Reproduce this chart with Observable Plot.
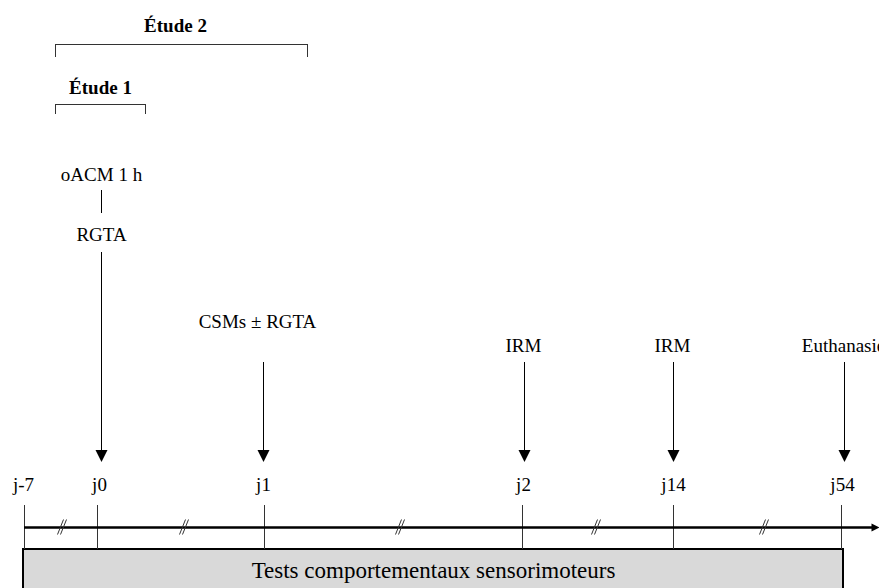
<!DOCTYPE html>
<html>
<head>
<meta charset="utf-8">
<script src="https://cdn.jsdelivr.net/npm/d3@7"></script>
<script src="https://cdn.jsdelivr.net/npm/@observablehq/plot@0.6"></script>
<style>
  html, body { margin: 0; padding: 0; background: #fff; }
  #chart svg { display: block; }
</style>
</head>
<body>
<div id="chart"></div>
<script>
// ---- Data (diagram layout, in the 879x588 frame) ----
const timepoints = ["j-7", "j0", "j1", "j2", "j14", "j54"];
const timepointX = [24, 97, 264, 522, 673, 841];
const timepointLabelX = [23, 99, 263, 523, 673, 842];

const events = ["oACM 1 h", "CSMs ± RGTA", "IRM", "IRM", "Euthanasie"];
const eventArrowX = [101, 263, 524, 673, 844];
const eventLabelX = [101, 257, 523, 672, 843];
const eventLabelY = [174, 321, 345, 345, 345];
const eventArrowTop = [252, 362, 362, 362, 362];

const subEvent = ["RGTA"];   // second line under oACM 1 h
const subEventY = [234];
const connectorY = [190, 213];

const studies = ["Étude 1", "Étude 2"];
const studyStart = [55, 55];
const studyEnd = [145, 307];
const studyLabelX = [100, 175];
const studyLabelY = [87, 25];
const studyBracketY = [104, 44];
const studyBracketDrop = [114, 57];

const breaks = [61, 183, 399, 595, 763];

const boxLabel = ["Tests comportementaux sensorimoteurs"];

// ---- Build tables ----
const tp = timepoints.map((t, i) => ({t, x: timepointX[i], lx: timepointLabelX[i]}));
const ev = events.map((e, i) => ({e, ax: eventArrowX[i], lx: eventLabelX[i], ly: eventLabelY[i], top: eventArrowTop[i]}));
const st = studies.map((s, i) => ({s, x1: studyStart[i], x2: studyEnd[i], lx: studyLabelX[i], ly: studyLabelY[i], by: studyBracketY[i], bd: studyBracketDrop[i]}));
const br = breaks.flatMap(b => [{x1: b - 4, x2: b + 2}, {x1: b - 1, x2: b + 5}]);

const axisY = 527, tickTop = 505, tickBottom = 549;
const headTop = 450, headY = 455.5;

const downTri = {draw(ctx, size) {const h = Math.sqrt(size / Math.PI); ctx.moveTo(-h, -h); ctx.lineTo(h, -h); ctx.lineTo(0, h); ctx.closePath();}};
const rightTri = {draw(ctx, size) {const h = Math.sqrt(size / Math.PI); ctx.moveTo(-h, -h); ctx.lineTo(h, 0); ctx.lineTo(-h, h); ctx.closePath();}};

const font = "Liberation Serif";

const chart = Plot.plot({
  width: 879,
  height: 588,
  margin: 0,
  x: {domain: [0, 879], range: [0, 879], axis: null},
  y: {domain: [0, 588], range: [0, 588], axis: null},
  marks: [
    // box
    Plot.rect(boxLabel, {x1: 23, x2: 843, y1: tickBottom, y2: 600, fill: "#d9d9d9", stroke: "#000", strokeWidth: 2}),
    Plot.text(boxLabel, {x: 433, y: 570, text: d => d, fontSize: 23, fontFamily: font, fill: "#000"}),
    // ticks
    Plot.ruleX(tp, {x: "x", y1: tickTop, y2: tickBottom, stroke: "#333", strokeWidth: 1}),
    // axis line
    Plot.ruleY([axisY], {x1: 24, x2: 874, stroke: "#000", strokeWidth: 2.5}),
    Plot.dot([axisY], {x: 875, y: d => d, r: 4, symbol: rightTri, fill: "#000", stroke: "none"}),
    // breaks
    Plot.link(br, {x1: "x1", x2: "x2", y1: 534, y2: 519, stroke: "#333", strokeWidth: 1}),
    // timepoint labels
    Plot.text(tp, {x: "lx", y: 484, text: "t", fontSize: 19, fontFamily: font, fill: "#000"}),
    // event arrows
    Plot.ruleX(ev, {x: "ax", y1: "top", y2: headTop, stroke: "#000", strokeWidth: 1}),
    Plot.dot(ev, {x: "ax", y: headY, r: 6, symbol: downTri, fill: "#000", stroke: "none"}),
    Plot.text(ev, {x: "lx", y: "ly", text: "e", fontSize: 19, fontFamily: font, fill: "#000"}),
    // oACM connector and RGTA
    Plot.ruleX([eventArrowX[0]], {x: d => d, y1: connectorY[0], y2: connectorY[1], stroke: "#000", strokeWidth: 1}),
    Plot.text(subEvent, {x: eventArrowX[0], y: subEventY[0], text: d => d, fontSize: 19, fontFamily: font, fill: "#000"}),
    // study brackets
    Plot.ruleY(st, {y: "by", x1: "x1", x2: "x2", stroke: "#333", strokeWidth: 1}),
    Plot.ruleX(st, {x: "x1", y1: "by", y2: "bd", stroke: "#333", strokeWidth: 1}),
    Plot.ruleX(st, {x: "x2", y1: "by", y2: "bd", stroke: "#333", strokeWidth: 1}),
    Plot.text(st, {x: "lx", y: "ly", text: "s", fontSize: 19, fontWeight: "bold", fontFamily: font, fill: "#000"})
  ]
});
document.getElementById("chart").append(chart);
</script>
</body>
</html>
